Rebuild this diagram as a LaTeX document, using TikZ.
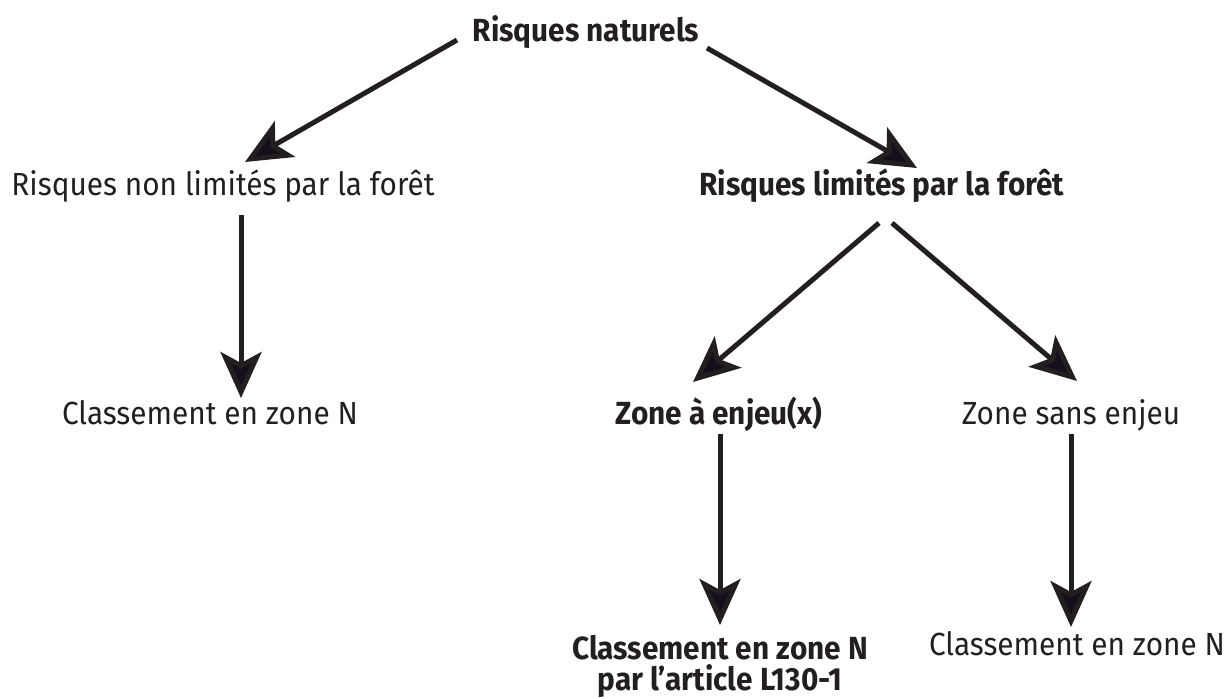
\documentclass[tikz,border=0pt]{standalone}
\usepackage{fontspec}
\setmainfont{Fira Sans}[FakeStretch=0.93]
\usepackage{xcolor}
\usetikzlibrary{arrows.meta,calc}
\definecolor{inkline}{RGB}{35,31,32}
\definecolor{inkhead}{RGB}{20,15,26}

\begin{document}
\begin{tikzpicture}[x=0.5pt, y=-0.5pt]
		\tikzset{every node/.style={inner sep=0pt, anchor=base, text=inkline, font=\fontsize{16}{15.5}\selectfont},
			boldnode/.style={font=\fontsize{16}{15.5}\selectfont\bfseries},
			arr/.style={line width=2.5pt, draw=inkline, -{Stealth[length=23pt, width=20.5pt, inset=5.5pt, fill=inkhead]}}}
		\useasboundingbox (0,0) rectangle (1227,698);
		\node[boldnode] (nat) at (586, 41) {Risques naturels};
		\node (nonlim) at (223, 195) {Risques non limités par la forêt};
		\node[boldnode] (lim) at (882, 195) {Risques limités par la forêt};
		\node (clsA) at (210, 424) {Classement en zone N};
		\node[boldnode] (enj) at (719, 424) {Zone à enjeu(x)};
		\node (sans) at (1071, 424) {Zone sans enjeu};
		\node[boldnode, align=center, anchor=north] (clsB) at (720, 635) {Classement en zone N\\par l’article L130-1};
		\node (clsC) at (1077, 655) {Classement en zone N};
		\draw [arr] ($(nat.base)+(-129,-1)$) -- ($(nonlim.base)+(22,-33)$);
		\draw [arr] ($(nat.base)+(121,7)$) -- ($(lim.base)+(35,-27)$);
		\draw [arr] ($(nonlim.base)+(18,20)$) -- ($(clsA.base)+(31,-26)$);
		\draw [arr] ($(lim.base)+(-3,28)$) -- ($(enj.base)+(-26,-42)$);
		\draw [arr] ($(lim.base)+(10,28)$) -- ($(sans.base)+(6,-43)$);
		\draw [arr] ($(enj.base)+(1,10)$) -- ($(clsB.north)+(0,-10)$);
		\draw [arr] ($(sans.base)+(0,10)$) -- ($(clsC.base)+(-6,-28)$);
	\end{tikzpicture}
\end{document}
